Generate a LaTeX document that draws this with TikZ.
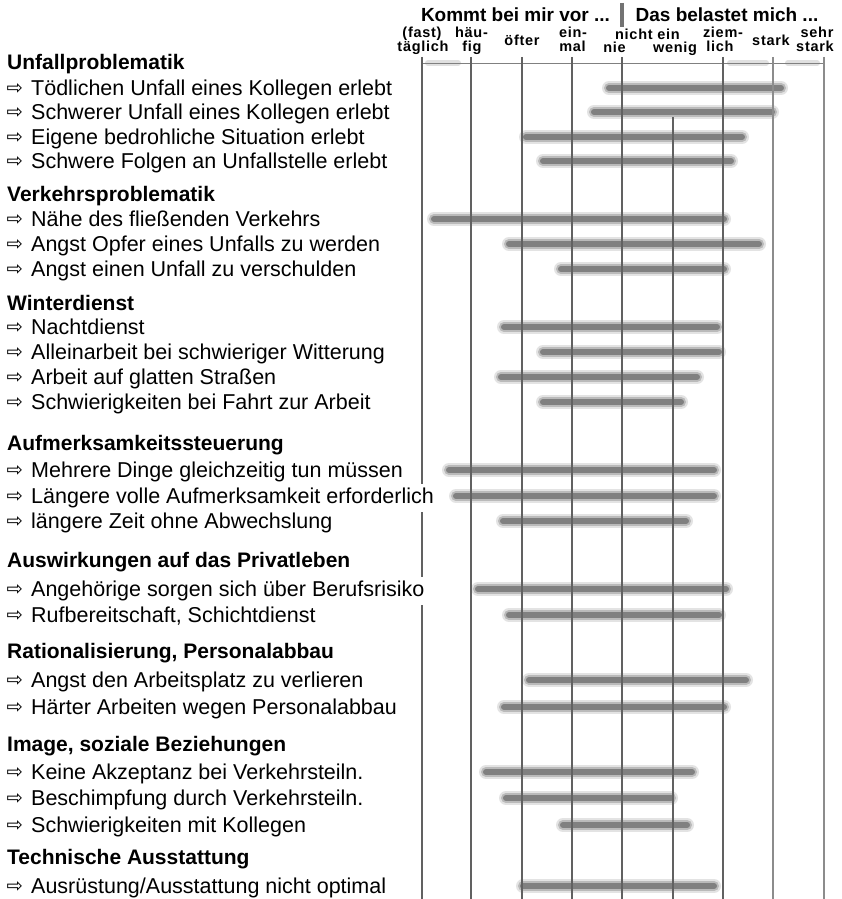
\documentclass[tikz,border=0pt]{standalone}
\usepackage{fontspec}
\setmainfont{Liberation Sans}
\newfontfamily\arrowfont{DejaVu Sans}
\newfontfamily\labelfont[LetterSpace=5]{Liberation Sans}
\newcommand\itemrow[4][]{%
  \node[arr] (a#2) at (6.5,{#3+6.8}) {⇨};
  \node[itm,#1] (i#2) at (31,{#3+7.5}) {#4};}
\newcommand\headrow[3]{\node[hd] (g#1) at (7,{#2+7.5}) {#3};}
\newcommand\rowbar[4]{%
  \coordinate (b#1s) at ({#3+6},#2);
  \coordinate (b#1e) at ({#4-6},#2);
  \draw[barline] (b#1s) -- (b#1e);}
\begin{document}
\begin{tikzpicture}[x=1pt,y=-1pt,
  itm/.style={anchor=base west, inner sep=0pt, font=\fontsize{21.5}{25}\selectfont},
  hd/.style={anchor=base west, inner sep=0pt, font=\fontsize{21}{25}\selectfont\bfseries},
  arr/.style={anchor=base west, inner sep=0pt, font=\arrowfont\fontsize{19.5}{21}\selectfont},
  knock/.style={fill=white, inner xsep=3pt, inner ysep=4pt, xshift=-3pt},
  colhd/.style={anchor=base, inner sep=0pt, font=\labelfont\fontsize{14.5}{15}\selectfont\bfseries},
  tophd/.style={anchor=base, inner sep=0pt, font=\fontsize{19}{22}\selectfont\bfseries},
  gridline/.style={draw=black!62, line width=1.3pt},
  gridlight/.style={draw=black!45, line width=1.2pt},
  barline/.style={line cap=round, draw=black!50, line width=6pt,
     preaction={draw=black!11, line width=14pt, line cap=round},
     preaction={draw=black!27, line width=10pt, line cap=round}},
  faintband/.style={line cap=round, draw=black!12, line width=6pt},
]
\useasboundingbox (0,0) rectangle (842,899);
\fill[white] (0,0) rectangle (842,899);

% bars
\rowbar{1}{88}{603}{787}
\rowbar{2}{112}{588}{778}
\rowbar{3}{137}{520}{748}
\rowbar{4}{161}{537}{737}
\rowbar{5}{219}{428}{730}
\rowbar{6}{244}{503}{765}
\rowbar{7}{269}{555}{730}
\rowbar{8}{327}{498}{723}
\rowbar{9}{352}{537}{725}
\rowbar{10}{377}{495}{703}
\rowbar{11}{402}{537}{687}
\rowbar{12}{470}{443}{720}
\rowbar{13}{496}{450}{720}
\rowbar{14}{521}{497}{692}
\rowbar{15}{589}{472}{732}
\rowbar{16}{615}{503}{725}
\rowbar{17}{680}{523}{752}
\rowbar{18}{707}{498}{730}
\rowbar{19}{772}{480}{698}
\rowbar{20}{798}{500}{677}
\rowbar{21}{825}{557}{693}
\rowbar{22}{886}{517}{720}

% scale line
\coordinate (hl) at (422,63);
\coordinate (hr) at (824,63);
\draw[faintband] (428,63) -- (458,63);
\draw[faintband] (730,63) -- (766,63);
\draw[faintband] (788,63) -- (817,63);
\draw[draw=black!50, line width=0.9pt] (hl) -- (hr);

% grid
\foreach \x/\n in {422/1,471/2,522/3,572/4,622/5,723/7}{
  \coordinate (t\n) at (\x,57); \coordinate (u\n) at (\x,899);
  \draw[gridline] (t\n) -- (u\n);}
\coordinate (t6) at (673,117); \coordinate (u6) at (673,899);
\draw[gridline] (t6) -- (u6);
\foreach \x/\n in {773/8,824/9}{
  \coordinate (t\n) at (\x,57); \coordinate (u\n) at (\x,899);
  \draw[gridlight] (t\n) -- (u\n);}

% header
\node[tophd] (k1) at (515.5,22) {Kommt bei mir vor ...};
\node[tophd] (k2) at (727,22) {Das belastet mich ...};
\coordinate (d1) at (622,3); \coordinate (d2) at (622,27);
\draw[draw=black!55, line width=3.2pt] (d1) -- (d2);

\node[colhd] (c1a) at (422,37.5) {(fast)};
\node[colhd] (c1b) at (423,52) {täglich};
\node[colhd] (c2a) at (471.5,37.5) {häu-};
\node[colhd] (c2b) at (472,52) {fig};
\node[colhd] (c3) at (522,45.5) {öfter};
\node[colhd] (c4a) at (573,37.5) {ein-};
\node[colhd] (c4b) at (572.5,52) {mal};
\node[colhd] (c5) at (614.5,52.5) {nie};
\node[colhd] (c6a) at (647.5,39.5) {nicht ein};
\node[colhd] (c6b) at (675,52.5) {wenig};
\node[colhd] (c7a) at (723,37.5) {ziem-};
\node[colhd] (c7b) at (720,52) {lich};
\node[colhd] (c8) at (771,45.5) {stark};
\node[colhd] (c9a) at (817,37.5) {sehr};
\node[colhd] (c9b) at (815,52) {stark};

% left column
\headrow{1}{62}{Unfallproblematik}
\itemrow{1}{88}{Tödlichen Unfall eines Kollegen erlebt}
\itemrow{2}{112}{Schwerer Unfall eines Kollegen erlebt}
\itemrow{3}{137}{Eigene bedrohliche Situation erlebt}
\itemrow{4}{161}{Schwere Folgen an Unfallstelle erlebt}
\headrow{2}{194}{Verkehrsproblematik}
\itemrow{5}{219}{Nähe des fließenden Verkehrs}
\itemrow{6}{244}{Angst Opfer eines Unfalls zu werden}
\itemrow{7}{269}{Angst einen Unfall zu verschulden}
\headrow{3}{303}{Winterdienst}
\itemrow{8}{327}{Nachtdienst}
\itemrow{9}{352}{Alleinarbeit bei schwieriger Witterung}
\itemrow{10}{377}{Arbeit auf glatten Straßen}
\itemrow{11}{402}{Schwierigkeiten bei Fahrt zur Arbeit}
\headrow{4}{443}{Aufmerksamkeitssteuerung}
\itemrow{12}{470}{Mehrere Dinge gleichzeitig tun müssen}
\itemrow[knock]{13}{496}{Längere volle Aufmerksamkeit erforderlich}
\itemrow{14}{521}{längere Zeit ohne Abwechslung}
\headrow{5}{560}{Auswirkungen auf das Privatleben}
\itemrow[knock]{15}{589}{Angehörige sorgen sich über Berufsrisiko}
\itemrow{16}{615}{Rufbereitschaft, Schichtdienst}
\headrow{6}{651}{Rationalisierung, Personalabbau}
\itemrow{17}{680}{Angst den Arbeitsplatz zu verlieren}
\itemrow{18}{707}{Härter Arbeiten wegen Personalabbau}
\headrow{7}{744}{Image, soziale Beziehungen}
\itemrow{19}{772}{Keine Akzeptanz bei Verkehrsteiln.}
\itemrow{20}{798}{Beschimpfung durch Verkehrsteiln.}
\itemrow{21}{825}{Schwierigkeiten mit Kollegen}
\headrow{8}{857}{Technische Ausstattung}
\itemrow{22}{886}{Ausrüstung/Ausstattung nicht optimal}
\end{tikzpicture}
\end{document}
